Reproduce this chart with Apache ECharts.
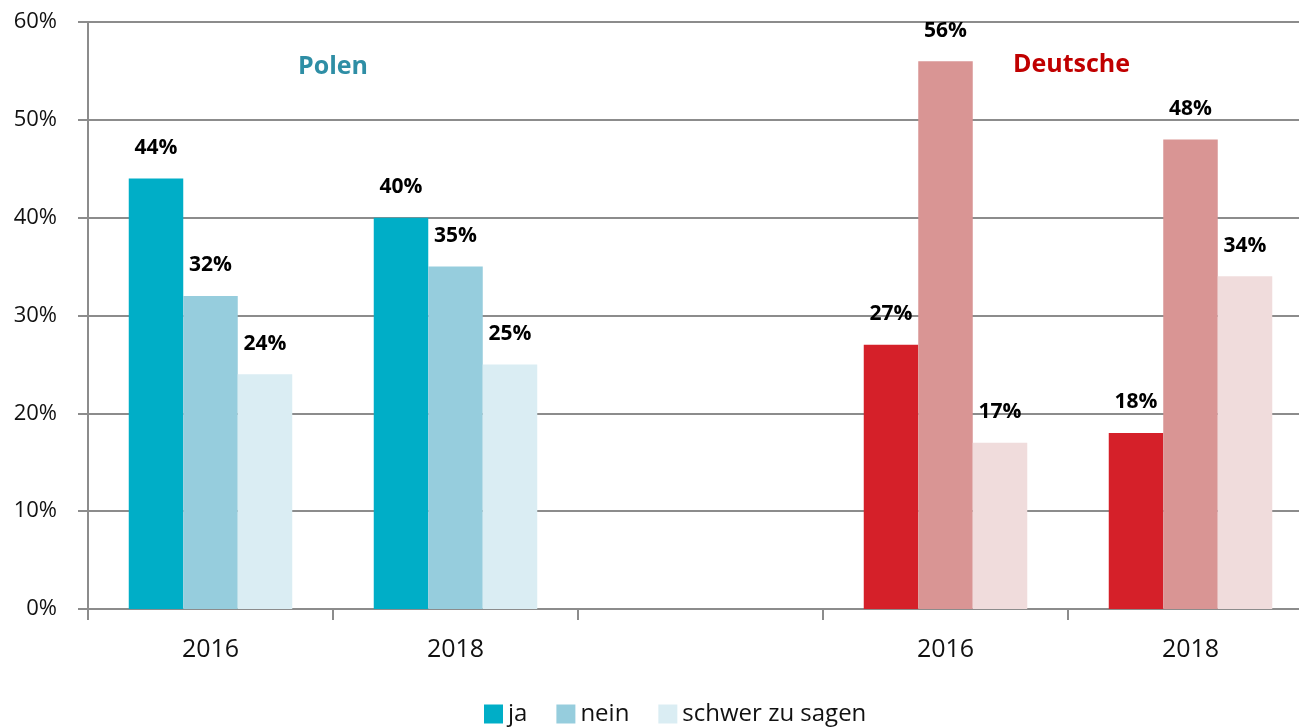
<!DOCTYPE html>
<html lang="de">
<head>
    <meta charset="UTF-8">
    <title>Polen / Deutsche</title>
    <script src="https://cdn.jsdelivr.net/npm/echarts@6/dist/echarts.min.js"></script>
    <style>
        html, body { margin: 0; padding: 0; background: #fff; }
        #chart { width: 1299px; height: 727px; }
    </style>
</head>
<body>
<div id="chart"></div>
<script>
    // categories: Polen 2016/2018, empty gap, Deutsche 2016/2018
    var categories = ['2016', '2018', '', '2016', '2018'];
    var seriesNames = ['ja', 'nein', 'schwer zu sagen'];
    var ja = [44, 40, '-', 27, 18];
    var nein = [32, 35, '-', 56, 48];
    var schwer = [24, 25, '-', 17, 34];
    var yTicks = [0, 10, 20, 30, 40, 50, 60];

    var blue = ['#00aec7', '#96cddd', '#daedf3'];
    var red = ['#d52029', '#d99594', '#f0dcdc'];

    var chart = echarts.init(document.getElementById('chart'));

    function makeSeries(name, values, idx) {
        return {
            name: name,
            type: 'bar',
            barWidth: 54.5,
            barGap: '0%',
            itemStyle: { color: blue[idx] },
            label: {
                show: true,
                position: 'top',
                distance: 20,
                color: '#000',
                fontFamily: 'Open Sans',
                fontWeight: 'bold',
                fontSize: 21,
                formatter: '{c}%'
            },
            data: values.map(function (v, i) {
                if (i >= 3 && v !== '-') {
                    return { value: v, itemStyle: { color: red[idx] } };
                }
                return v;
            })
        };
    }

    var option = {
        animation: false,
        textStyle: { fontFamily: 'Open Sans' },
        // plot runs a bit past the right edge, like the original
        grid: { left: 88, width: 1225, top: 22, bottom: 118, outerBoundsMode: 'none' },
        legend: {
            left: 479,
            top: 697,
            icon: 'rect',
            itemWidth: 19,
            itemHeight: 19,
            itemGap: 29,
            textStyle: { fontSize: 24, color: '#111', fontFamily: 'Open Sans' },
            data: seriesNames
        },
        graphic: [
            {
                type: 'text', left: 298, top: 54,
                style: { text: 'Polen', fill: '#2e8ea5', font: 'bold 25px "Open Sans"' }
            },
            {
                type: 'text', left: 1013, top: 52,
                style: { text: 'Deutsche', fill: '#c00000', font: 'bold 25px "Open Sans"' }
            }
        ],
        xAxis: {
            type: 'category',
            data: categories,
            axisLine: { lineStyle: { color: '#8c8c8c', width: 2 } },
            axisTick: { show: true, length: 11, lineStyle: { color: '#8c8c8c', width: 2 } },
            axisLabel: { fontSize: 25, color: '#111', margin: 28 }
        },
        yAxis: {
            type: 'value',
            min: yTicks[0],
            max: yTicks[yTicks.length - 1],
            interval: 10,
            axisLine: { show: true, lineStyle: { color: '#8c8c8c', width: 2 } },
            axisTick: { show: true, length: 10, lineStyle: { color: '#8c8c8c', width: 2 } },
            splitLine: { lineStyle: { color: '#8c8c8c', width: 2 } },
            axisLabel: { fontSize: 22, color: '#111', margin: 31, formatter: '{value}%' }
        },
        series: [
            makeSeries(seriesNames[0], ja, 0),
            makeSeries(seriesNames[1], nein, 1),
            makeSeries(seriesNames[2], schwer, 2)
        ]
    };

    chart.setOption(option);
</script>
</body>
</html>
